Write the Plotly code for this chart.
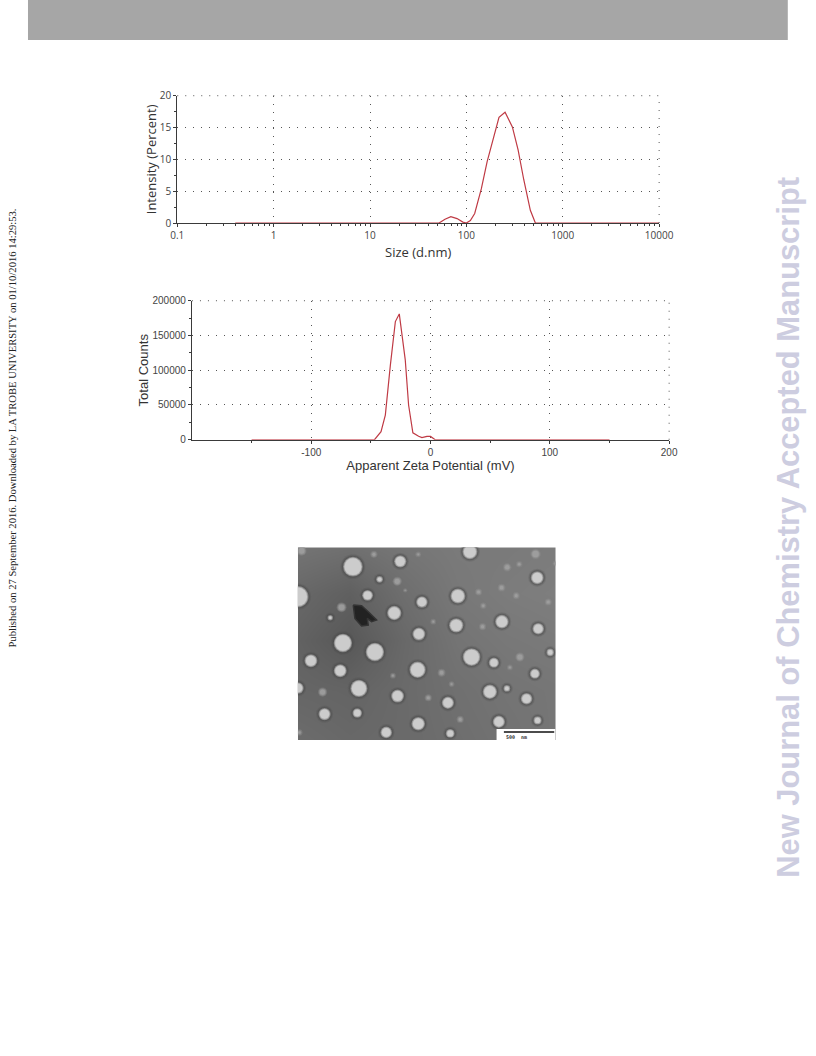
import plotly.graph_objects as go

# ---------- data ----------
size_nm = [0.4, 1, 10, 30, 52, 60, 69, 80, 92, 100, 110, 122, 143, 164, 189, 218, 252, 300, 344, 394, 461, 520, 1000, 10000]
intensity = [0, 0, 0, 0, 0, 0.6, 1.0, 0.7, 0.15, 0, 0.4, 1.5, 5.4, 9.6, 13.1, 16.6, 17.4, 15.1, 11.5, 6.8, 2.0, 0, 0, 0]
size_ticks = [0.1, 1, 10, 100, 1000, 10000]
size_tick_text = ["0.1", "1", "10", "100", "1000", "10000"]
intensity_ticks = [0, 5, 10, 15, 20]

zeta_mv = [-150, -100, -60, -47, -41.5, -37.9, -33.7, -29.5, -26.2, -21.2, -18.4, -14.8, -10, -7.2, -3, 0, 3.9, 50, 100, 150]
counts = [0, 0, 0, 0, 11500, 35500, 107000, 170000, 181000, 115000, 50000, 10000, 5000, 3000, 4800, 4800, 0, 0, 0, 0]
zeta_ticks = [-100, 0, 100, 200]
zeta_tick_text = ["-100", "0", "100", "200"]
counts_ticks = [0, 50000, 100000, 150000, 200000]
counts_tick_text = ["0", "50000", "100000", "150000", "200000"]

# micrograph: position in the picture and particle diameter
bright_x = [189, 331, 540, 269, 233, 396, 504, 742, 313, 499, 636, 745, 387, 159, 255, 545, 612, 781, 63, 151, 383, 735, 207, 24, 600, 651, 323, 474, 710, 104, 202, 385, 627, 743, 289, 481, 121, 24]
bright_y = [80, 64, 35, 118, 166, 186, 168, 113, 219, 256, 245, 266, 282, 309, 336, 351, 368, 337, 362, 392, 389, 401, 445, 170, 455, 445, 468, 488, 476, 522, 519, 551, 545, 541, 577, 580, 233, 444]
bright_d = [58, 36, 44, 20, 32, 34, 44, 38, 42, 42, 40, 34, 38, 54, 54, 52, 30, 22, 38, 38, 48, 30, 50, 62, 42, 20, 38, 36, 34, 36, 28, 40, 36, 24, 34, 26, 16, 34]
dim_x = [737, 322, 652, 688, 635, 566, 679, 775, 580, 155, 578, 690, 455, 98, 309, 511, 415, 28, 252, 385, 346, 797, 35, 430, 660, 485]
dim_y = [42, 124, 82, 73, 143, 156, 167, 186, 197, 202, 260, 351, 398, 456, 407, 538, 473, 577, 43, 43, 151, 70, 32, 245, 382, 432]
dim_d = [28, 24, 22, 16, 20, 18, 18, 18, 16, 26, 18, 24, 20, 24, 14, 18, 18, 16, 18, 14, 10, 14, 26, 14, 14, 14]
blob_x = [190, 215, 235, 260, 245, 232, 235, 215, 195, 190]
blob_y = [195, 197, 215, 240, 245, 235, 255, 258, 235, 195]
film_x = [24, 180, 340, 500, 650, 797]
film_y = [22, 160, 300, 450, 600]
film_z = [[116, 112, 118, 122, 122, 124],
          [104, 96, 110, 120, 124, 126],
          [98, 88, 104, 116, 120, 122],
          [102, 100, 106, 112, 116, 118],
          [108, 104, 106, 110, 114, 118]]
bar_x = [642, 793]
bar_y = [576, 576]
box_x = [620, 797, 797, 620, 620]
box_y = [567, 567, 600, 600, 567]


# ---------- page geometry ----------
KX, KY = 0.974, 0.987
W, H = 838, 1085
def fx(a):
    return a / KX / W
def fy(b):
    return 1 - b / KY / H
def dx(a, b):
    return [fx(a), fx(b)]
def dy(top, bottom):
    return [fy(bottom), fy(top)]


fig = go.Figure()
RED = "#bf3a44"
INK = "#3a3a3a"
DOTS = "1px,7px"

# --- size distribution ---
fig.add_trace(go.Scatter(x=size_nm, y=intensity, mode="lines", xaxis="x", yaxis="y",
                         line=dict(color=RED, width=1.2), cliponaxis=False, showlegend=False))
# --- zeta potential ---
fig.add_trace(go.Scatter(x=zeta_mv, y=counts, mode="lines", xaxis="x2", yaxis="y2",
                         line=dict(color=RED, width=1.2), cliponaxis=False, showlegend=False))

# --- micrograph ---
fig.add_trace(go.Heatmap(x=film_x, y=film_y, z=film_z, zsmooth="best", xaxis="x3", yaxis="y3",
                         colorscale=[[0, "#000000"], [1, "#ffffff"]], zmin=0, zmax=255,
                         showscale=False, hoverinfo="skip"))


def particles(xs, ys, ds, grow, color, opacity):
    fig.add_trace(go.Scatter(x=xs, y=ys, mode="markers", xaxis="x3", yaxis="y3",
                             marker=dict(size=[max(d / 3 / KX + grow, 1) for d in ds], color=color, opacity=opacity,
                                         line=dict(width=0)),
                             showlegend=False, hoverinfo="skip"))


# soft dark halo round the bright particles
particles(bright_x, bright_y, bright_d, 5, "#4a4a4a", 0.18)
particles(bright_x, bright_y, bright_d, 3, "#4a4a4a", 0.28)
particles(bright_x, bright_y, bright_d, 1.5, "#4a4a4a", 0.35)
# faint particles
particles(dim_x, dim_y, dim_d, 1, "#8e8e8e", 0.4)
particles(dim_x, dim_y, dim_d, -1, "#989898", 0.6)
particles(dim_x, dim_y, dim_d, -3, "#a2a2a2", 0.7)
# bright particles
particles(bright_x, bright_y, bright_d, 0, "#9a9a9a", 0.7)
particles(bright_x, bright_y, bright_d, -1.5, "#b4b4b4", 0.85)
particles(bright_x, bright_y, bright_d, -3, "#cccccc", 1)

fig.add_trace(go.Scatter(x=blob_x, y=blob_y, mode="lines", fill="toself", xaxis="x3", yaxis="y3",
                         fillcolor="#222222", line=dict(color="#333333", width=1.5),
                         showlegend=False, hoverinfo="skip"))
fig.add_trace(go.Scatter(x=box_x, y=box_y, mode="lines", fill="toself", xaxis="x3", yaxis="y3",
                         fillcolor="#ffffff", line=dict(color="#ffffff", width=0),
                         showlegend=False, hoverinfo="skip"))
fig.add_trace(go.Scatter(x=bar_x, y=bar_y, mode="lines", xaxis="x3", yaxis="y3",
                         line=dict(color="#111111", width=1.6), showlegend=False, hoverinfo="skip"))

GRID = dict(showgrid=True, gridcolor="#555555", griddash=DOTS, gridwidth=1, zeroline=False, layer="below traces",
            showline=True, linecolor=INK, linewidth=1.2, ticks="outside", ticklen=3, tickcolor=INK)
F1 = "Open Sans"
F2 = "Liberation Sans"
tf1 = dict(family=F1, size=10, color="#444444")
tf2 = dict(family=F2, size=10, color="#444444")


def edge(xref, yref, x0, y0, x1, y1):
    return dict(type="line", xref=xref, yref=yref, x0=x0, y0=y0, x1=x1, y1=y1,
                line=dict(color="#555555", width=1, dash=DOTS))


fig.update_layout(
    width=W, height=H, margin=dict(l=0, r=0, t=0, b=0), autosize=False,
    paper_bgcolor="#ffffff", plot_bgcolor="#ffffff", showlegend=False,
    xaxis=dict(GRID, domain=dx(177.3, 659.3), type="log", range=[-1, 4], anchor="y",
               tickvals=size_ticks, ticktext=size_tick_text, tickfont=tf1,
               minor=dict(ticks="outside", ticklen=2, tickcolor=INK, dtick="D1"),
               title=dict(text="Size (d.nm)", font=dict(family=F1, size=13, color="#333333"), standoff=6)),
    yaxis=dict(GRID, domain=dy(95.7, 223), range=[0, 20], anchor="x", tickvals=intensity_ticks,
               tickfont=tf1, minor=dict(ticks="outside", ticklen=2, tickcolor=INK, dtick=2.5),
               title=dict(text="Intensity (Percent)", font=dict(family=F1, size=13, color="#333333"), standoff=0)),
    xaxis2=dict(GRID, domain=dx(192, 669.3), range=[-200, 200], anchor="y2", tickvals=zeta_ticks,
                ticktext=zeta_tick_text, tickfont=tf2,
                minor=dict(ticks="outside", ticklen=2, tickcolor=INK, tickvals=[-150, -50, 50, 150]),
                title=dict(text="Apparent Zeta Potential (mV)", font=dict(family=F2, size=13, color="#333333"), standoff=2)),
    yaxis2=dict(GRID, domain=dy(300.7, 439.7), range=[0, 200000], anchor="x2", tickvals=counts_ticks,
                ticktext=counts_tick_text, tickfont=tf2,
                minor=dict(ticks="outside", ticklen=2, tickcolor=INK, dtick=25000),
                title=dict(text="Total Counts", font=dict(family=F2, size=13, color="#333333"), standoff=0)),
    xaxis3=dict(domain=dx(298, 555.7), range=[24, 797], anchor="y3", visible=False),
    yaxis3=dict(domain=dy(547.3, 740), range=[600, 22], anchor="x3", visible=False),
    shapes=[dict(type="rect", xref="paper", yref="paper", x0=fx(28), x1=fx(788), y0=fy(40), y1=1,
                 fillcolor="#a6a6a6", line=dict(width=0), layer="below"),
            edge("x domain", "y domain", 0, 1, 1, 1),
            edge("x domain", "y domain", 1, 0, 1, 1),
            edge("x2 domain", "y2 domain", 0, 1, 1, 1),
            edge("x2 domain", "y2 domain", 1, 0, 1, 1)],
    annotations=[
        dict(text="Published on 27 September 2016. Downloaded by LA TROBE UNIVERSITY on 01/10/2016 14:29:53.",
             xref="paper", yref="paper", x=fx(12.5), y=fy(428), showarrow=False, textangle=-90,
             xanchor="center", yanchor="middle", font=dict(family="Liberation Serif", size=10.6, color="#222222")),
        dict(text="<b>New Journal of Chemistry Accepted Manuscript</b>",
             xref="paper", yref="paper", x=fx(788), y=fy(527), showarrow=False, textangle=-90,
             xanchor="center", yanchor="middle", font=dict(family="Liberation Sans", size=30.9, color="#cdcde0")),
        dict(text="<b>500  nm</b>", xref="x3", yref="y3", x=680, y=592, showarrow=False,
             font=dict(family="DejaVu Sans Mono", size=5, color="#333333")),
    ],
)

fig.write_html("out.html", config={"displayModeBar": False, "responsive": False},
               post_script="document.body.style.margin='-7.4px 0 0 -7.4px';")
